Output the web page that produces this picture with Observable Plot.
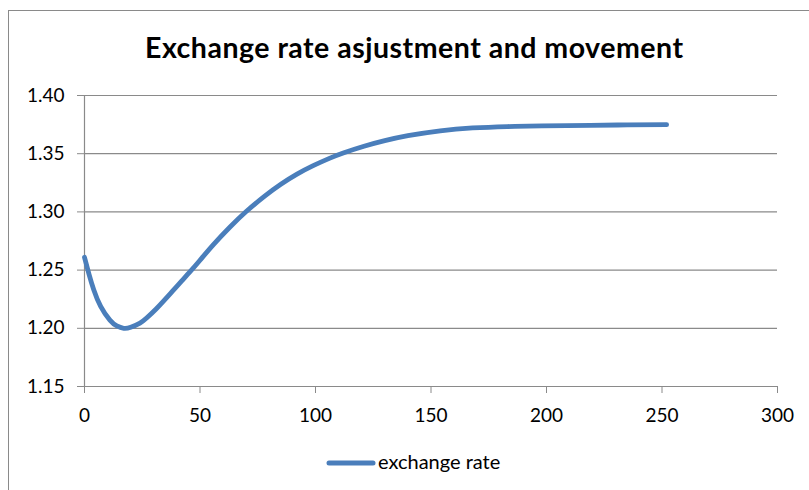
<!DOCTYPE html>
<html>
<head>
<meta charset="utf-8">
<script src="https://cdn.jsdelivr.net/npm/d3@7"></script>
<script src="https://cdn.jsdelivr.net/npm/@observablehq/plot@0.6"></script>
<style>
  html, body { margin: 0; padding: 0; background: #ffffff; }
  #wrap { position: relative; width: 809px; height: 490px; overflow: hidden; background: #fff; }
  #frame { position: absolute; left: 8px; top: 10px; width: 900px; height: 600px; border: 1px solid #8a8a8a; }
  #chart, #overlay { position: absolute; left: 0; top: 0; }
</style>
</head>
<body>
<div id="wrap">
  <div id="frame"></div>
  <div id="chart"></div>
  <svg id="overlay" width="809" height="490"></svg>
</div>
<script>
// Simulated exchange rate path after the adjustment
const days  = [0, 2, 4, 7, 11, 14, 17, 20, 24, 27, 31, 34, 38, 42, 46, 50, 56, 63, 70, 78,
               85, 92, 99, 106, 112, 121, 130, 140, 154, 168, 183, 198, 219, 235, 252];
const rates = [1.2610, 1.2462, 1.2332, 1.2188, 1.2070, 1.2020, 1.2000, 1.2009, 1.2045, 1.2090,
               1.2166, 1.2229, 1.2317, 1.2405, 1.2493, 1.2585, 1.2723, 1.2870, 1.3003, 1.3135,
               1.3237, 1.3324, 1.3397, 1.3460, 1.3506, 1.3564, 1.3612, 1.3655, 1.3697, 1.3721,
               1.3733, 1.3739, 1.3744, 1.3747, 1.3749];

const xTicks = [0, 50, 100, 150, 200, 250, 300];
const yTicks = [1.15, 1.20, 1.25, 1.30, 1.35, 1.40];

const titleText  = "Exchange rate asjustment and movement";
const seriesName = "exchange rate";

const lineColor = "#4a7ebb";
const gridColor = "#8a8a8a";
const font = "Lato, 'Open Sans', sans-serif";

const data = days.map((d, i) => ({day: d, rate: rates[i]}));

const chart = Plot.plot({
  width: 809,
  height: 440,
  marginTop: 95,
  marginBottom: 54,
  marginLeft: 84,
  marginRight: 32,
  style: {fontFamily: font, fontSize: "19px", color: "#000", background: "transparent", overflow: "visible"},
  x: {domain: [0, 300], ticks: xTicks},
  y: {domain: [1.15, 1.40], ticks: yTicks},
  marks: [
    Plot.gridY(yTicks, {stroke: gridColor, strokeOpacity: 1, strokeWidth: 1.2}),
    Plot.ruleX([0], {stroke: gridColor, strokeWidth: 1.2}),
    Plot.axisY(yTicks, {tickSize: 7, tickPadding: 13, tickFormat: d3.format(".2f"), stroke: gridColor, fill: "#000", label: null}),
    Plot.axisX(xTicks, {tickSize: 7, tickPadding: 15, tickFormat: d3.format("d"), stroke: gridColor, fill: "#000", label: null}),
    Plot.line(data, {x: "day", y: "rate", stroke: lineColor, strokeWidth: 4.8, curve: "natural", strokeLinecap: "round"})
  ]
});
document.getElementById("chart").append(chart);

// Title and legend
const overlay = d3.select("#overlay");
overlay.append("text")
  .attr("x", 414).attr("y", 58)
  .attr("text-anchor", "middle")
  .attr("font-family", font)
  .attr("font-weight", "bold")
  .attr("font-size", 28.5)
  .attr("textLength", 538)
  .attr("lengthAdjust", "spacing")
  .attr("fill", "#000")
  .text(titleText);

const legend = overlay.append("g");
legend.append("line")
  .attr("x1", 329).attr("x2", 373).attr("y1", 463).attr("y2", 463)
  .attr("stroke", lineColor).attr("stroke-width", 5).attr("stroke-linecap", "round");
legend.append("text")
  .attr("x", 378).attr("y", 469)
  .attr("font-family", font)
  .attr("font-size", 20)
  .attr("fill", "#000")
  .text(seriesName);
</script>
</body>
</html>
